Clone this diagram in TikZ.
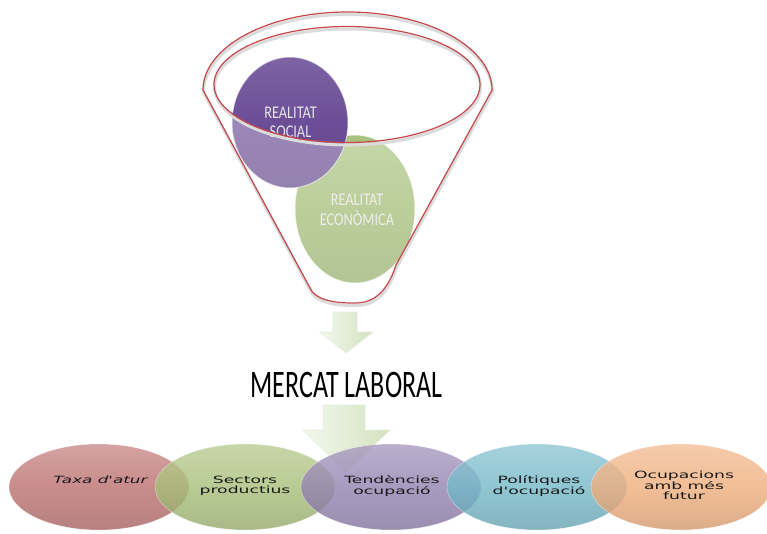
\documentclass[tikz,border=0pt]{standalone}
\usepackage{fontspec}
\setmainfont{DejaVu Sans}
\newfontfamily\calib{Carlito}
\usetikzlibrary{shapes.geometric}
\definecolor{funred}{HTML}{C6474A}
\definecolor{purb}{HTML}{6C4E98}
\definecolor{grnb}{HTML}{9CB86B}
\definecolor{arrL}{HTML}{F3F8ED}
\definecolor{arrR}{HTML}{D3E2C0}
\definecolor{arrE}{HTML}{E6EEDC}
\definecolor{ovA}{HTML}{BC6F6F}
\definecolor{ovB}{HTML}{A8BF79}
\definecolor{ovC}{HTML}{9482B1}
\definecolor{ovD}{HTML}{74B8C8}
\definecolor{ovE}{HTML}{F0AE7D}
\begin{document}
\begin{tikzpicture}[x=1pt,y=-1pt,
  ball/.style={ellipse, inner sep=0pt, draw=white, draw opacity=0.6, line width=1pt},
  oval/.style={ellipse, minimum width=180pt, minimum height=86pt, inner sep=0pt,
     fill opacity=0.8, draw=white, draw opacity=0.4, line width=0.6pt},
  lbl/.style={anchor=base, inner sep=0pt, text=black!90, font=\fontsize{10}{10.5}\selectfont},
  real/.style={anchor=base, inner sep=0pt, text=white!90!black},
  redline/.style={draw=funred, line width=1.2pt},
  shadowline/.style={draw=black!14, line width=3pt},
  blockarrow/.style={left color=arrL, right color=arrR, draw=arrE, line width=0.6pt}
]
\useasboundingbox[fill=white] (0,0) rectangle (767,533);

% spheres
\node[ball, top color=grnb!85!white, bottom color=grnb!92!black, middle color=grnb, minimum width=120pt, minimum height=148pt] (eco) at (355,209) {};
\node[ball, top color=purb!88!white, bottom color=purb!90!black, middle color=purb, minimum width=116pt, minimum height=131pt] (soc) at (290,122.5) {};
\node[real] (tsoc) at (290.5,118) {\scalebox{1}[1.25]{\calib\fontsize{14.3}{15.2}\selectfont\begin{tabular}[t]{@{}c@{}}REALITAT\\SOCIAL\end{tabular}}};
\node[real] (teco) at (357,205) {\scalebox{1}[1.25]{\calib\fontsize{14.3}{16}\selectfont\begin{tabular}[t]{@{}c@{}}REALITAT\\ECONÒMICA\end{tabular}}};

% funnel glass
\fill[white, fill opacity=0.32, even odd rule]
  (203,90) arc[start angle=180, end angle=360, x radius=144.5, y radius=78]
  -- (396,265) .. controls (386,296) and (370,304) .. (352,303)
  .. controls (330,303) and (314,298) .. (310,288) -- cycle
  (347,84.5) ellipse [x radius=133, y radius=58];
% funnel shadow lines
\begin{scope}[shift={(0.5,2.5)}]
\draw[shadowline]
  (203,90) arc[start angle=180, end angle=360, x radius=144.5, y radius=78]
  -- (396,265) .. controls (386,296) and (370,304) .. (352,303)
  .. controls (330,303) and (314,298) .. (310,288) -- cycle;
\draw[shadowline] (347,84.5) ellipse [x radius=133, y radius=58];
\end{scope}
% funnel red lines
\draw[redline]
  (203,90) arc[start angle=180, end angle=360, x radius=144.5, y radius=78]
  -- (396,265) .. controls (386,296) and (370,304) .. (352,303)
  .. controls (330,303) and (314,298) .. (310,288) -- cycle;
\draw[redline] (347,84.5) ellipse [x radius=133, y radius=58];

% arrow 1
\path[blockarrow] (333,312) -- (357,312) -- (357,332) -- (373,332) -- (346,353)
  -- (320,332) -- (333,332) -- cycle;
% title
\node[anchor=base, inner sep=0pt] (mercat) at (346.5,397)
  {\scalebox{1}[1.5]{\calib\fontsize{26}{30}\selectfont MERCAT LABORAL}};
% arrow 2
\path[blockarrow] (323,405) -- (365,405) -- (365,430) -- (390,430) -- (346,472)
  -- (303,430) -- (323,430) -- cycle;

% bottom ovals
\node[oval, top color=ovA!80!white, bottom color=ovA!88!black, middle color=ovA] (o1) at (99,487) {};
\node[oval, top color=ovB!80!white, bottom color=ovB!88!black, middle color=ovB] (o2) at (245,487) {};
\node[oval, top color=ovC!80!white, bottom color=ovC!88!black, middle color=ovC] (o3) at (391,487) {};
\node[oval, top color=ovD!80!white, bottom color=ovD!88!black, middle color=ovD] (o4) at (537,487) {};
\node[oval, top color=ovE!80!white, bottom color=ovE!88!black, middle color=ovE] (o5) at (681,487) {};

\node[lbl] (t1) at (100.5,483) {\scalebox{1.68}[1]{\itshape Taxa d\textquotesingle atur}};
\node[lbl] (t2) at (245,483) {\scalebox{1.72}[1]{\begin{tabular}[t]{@{}c@{}}Sectors\\productius\end{tabular}}};
\node[lbl] (t3) at (392,483) {\scalebox{1.72}[1]{\begin{tabular}[t]{@{}c@{}}Tendències\\ocupació\end{tabular}}};
\node[lbl] (t4) at (539,483) {\scalebox{1.72}[1]{\begin{tabular}[t]{@{}c@{}}Polítiques\\d\textquotesingle ocupació\end{tabular}}};
\node[lbl] (t5) at (684,478) {\scalebox{1.72}[1]{\begin{tabular}[t]{@{}c@{}}Ocupacions\\amb més\\futur\end{tabular}}};
\end{tikzpicture}
\end{document}
